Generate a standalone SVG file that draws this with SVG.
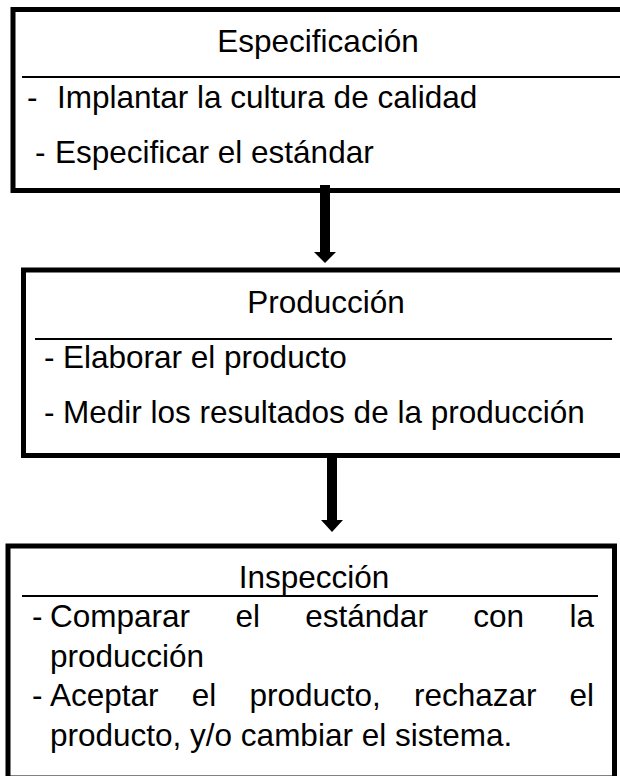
<svg xmlns="http://www.w3.org/2000/svg" width="620" height="776" viewBox="0 0 620 776">
  <style>
    .box { fill: #ffffff; stroke: #000000; stroke-width: 5; }
    .sep { stroke: #000000; stroke-width: 2.2; fill: none; }
    .t { font-family: "Liberation Sans", Arial, sans-serif; font-size: 31.5px; fill: #000000; }
    .title { text-anchor: middle; }
    .arrow { fill: #000000; stroke: none; }
  </style>
  <rect x="0" y="0" width="620" height="776" fill="#ffffff"/>

  <g id="especificacion">
    <rect class="box" x="13" y="9.5" width="620" height="181"/>
    <text class="t title" x="318" y="52">Especificación</text>
    <line class="sep" x1="22" y1="77" x2="620" y2="77"/>
    <text class="t" x="27" y="108">-</text>
    <text class="t" x="57" y="108">Implantar la cultura de calidad</text>
    <text class="t" x="35" y="163">-</text>
    <text class="t" x="55" y="163">Especificar el estándar</text>
  </g>

  <g id="produccion">
    <rect class="box" x="23.5" y="270" width="610" height="185.5"/>
    <text class="t title" x="326" y="313">Producción</text>
    <line class="sep" x1="35" y1="339" x2="612" y2="339"/>
    <text class="t" x="44" y="368">-</text>
    <text class="t" x="63" y="368">Elaborar el producto</text>
    <text class="t" x="44" y="423">-</text>
    <text class="t" x="63" y="423">Medir los resultados de la producción</text>
  </g>

  <g id="inspeccion">
    <rect class="box" x="8" y="546" width="606.5" height="232"/>
    <text class="t title" x="314" y="588">Inspección</text>
    <line class="sep" x1="22" y1="596" x2="598" y2="596"/>
    <text class="t" x="32" y="627">-</text>
    <text class="t" y="627"><tspan x="50">Comparar</tspan><tspan x="235.4">el</tspan><tspan x="305.3">estándar</tspan><tspan x="473.3">con</tspan><tspan x="569.5">la</tspan></text>
    <text class="t" x="50" y="667">producción</text>
    <text class="t" x="32" y="706">-</text>
    <text class="t" y="706"><tspan x="50">Aceptar</tspan><tspan x="191.7">el</tspan><tspan x="249.4">producto,</tspan><tspan x="413.9">rechazar</tspan><tspan x="569.5">el</tspan></text>
    <text class="t" x="50" y="746">producto, y/o cambiar el sistema.</text>
  </g>

  <g id="connectors">
    <rect class="arrow" x="320" y="185" width="10" height="68"/>
    <polygon class="arrow" points="314,252 336,252 325,263"/>
    <rect class="arrow" x="327" y="453" width="10" height="68"/>
    <polygon class="arrow" points="321,520 343,520 332,532"/>
  </g>
</svg>
